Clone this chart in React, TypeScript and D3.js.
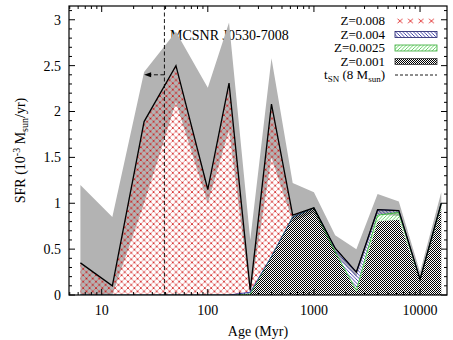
import * as d3 from "d3";

// ages of the SFH bins (Myr)
const ages = [6.3, 12.6, 25.1, 50.1, 100, 158.5, 251.2, 398.1, 631, 1000, 1585, 2512, 3981, 6310, 10000, 15849];

// SFR per metallicity (10^-3 Msun/yr), stacked bottom -> top
const z001 = [0, 0, 0, 0, 0, 0, 0.01, 0.42, 0.85, 0.95, 0.47, 0.03, 0.8, 0.82, 0.15, 0.95];
const z0025 = [0, 0, 0, 0, 0, 0, 0, 0, 0, 0, 0, 0.02, 0.07, 0.08, 0.02, 0.05];
const z004 = [0, 0, 0, 0, 0, 0, 0.02, 0, 0, 0, 0.04, 0.2, 0.06, 0.02, 0, 0];
const z008 = [0.35, 0.1, 1.89, 2.5, 1.15, 2.31, 0.02, 1.66, 0.02, 0, 0, 0, 0, 0, 0, 0];

// uncertainty band on the total
const upper = [1.2, 0.85, 2.43, 2.87, 2.26, 2.97, 0.6, 2.58, 1.22, 1.12, 0.65, 0.5, 1.1, 1.02, 0.25, 1.12];
const lower = [0, 0, 1.0, 2.1, 1.0, 1.8, 0, 1.5, 0.8, 0.9, 0.45, 0.2, 0.88, 0.86, 0.14, 0.95];

const tSN = 39; // Myr, lifetime of 8 Msun star
const arrowTo = 25.1;
const arrowY = 2.4;

const yTicks = [0, 0.5, 1, 1.5, 2, 2.5, 3];
const xTicks = [10, 100, 1000, 10000];

const W = 453, H = 340;
const margin = { left: 69, right: 6, top: 6, bottom: 45 };

const FONT = "'Liberation Serif', 'Times New Roman', serif";
const FS = 14;
const LFS = 13;

export default function App() {
  const x = d3.scaleLog().domain([4.92, 17950]).range([margin.left, W - margin.right]);
  const y = d3.scaleLinear().domain([0, 3.15]).range([H - margin.bottom, margin.top]);

  const layers = [
    { key: "z001", vals: z001, fill: "url(#checker)", edge: "#000" },
    { key: "z0025", vals: z0025, fill: "url(#greenHatch)", edge: "#22bb22" },
    { key: "z004", vals: z004, fill: "url(#blueHatch)", edge: "#1a1a99" },
    { key: "z008", vals: z008, fill: "url(#redHatch)", edge: "#cc2222" },
  ];

  // cumulative stacks
  let base = ages.map(() => 0);
  const stacks = layers.map((l) => {
    const top = base.map((b, i) => b + l.vals[i]);
    const s = { ...l, lo: base, hi: top };
    base = top;
    return s;
  });
  const total = base;

  const area = (lo: number[], hi: number[]) =>
    d3.area<number>()
      .x((_, i) => x(ages[i]))
      .y0((_, i) => y(lo[i]))
      .y1((_, i) => y(hi[i]))(ages.map((_, i) => i)) || "";

  const line = (v: number[]) =>
    d3.line<number>()
      .x((_, i) => x(ages[i]))
      .y((_, i) => y(v[i]))(ages.map((_, i) => i)) || "";

  const x0 = margin.left, x1 = W - margin.right;
  const y0 = H - margin.bottom, y1 = margin.top;

  // minor ticks
  const yMinor = d3.range(0, 3.15, 0.1).filter((v) => Math.abs(v * 2 - Math.round(v * 2)) > 1e-6);
  const xMinor: number[] = [];
  for (let dec = 1; dec <= 10000; dec *= 10) {
    for (let m = 2; m <= 9; m++) {
      const v = m * dec;
      if (v > 4.92 && v < 17950) xMinor.push(v);
    }
  }

  const legendRows = [
    { label: "Z=0.008", fill: "url(#redLegend)", stroke: "none" },
    { label: "Z=0.004", fill: "url(#blueHatch)", stroke: "#1a1a66" },
    { label: "Z=0.0025", fill: "url(#greenHatch)", stroke: "#33aa33" },
    { label: "Z=0.001", fill: "url(#checker)", stroke: "#333" },
  ];
  const legX = 385, legSw0 = 395, legSw1 = 437, legY0 = 21, legDy = 13.5;

  return (
    <svg width={W} height={H} style={{ position: "absolute", left: 0, top: 0 }} fontFamily={FONT}>
      <defs>
        <pattern id="redHatch" patternUnits="userSpaceOnUse" width={6.4} height={6.4}>
          <path d="M0,0L6.4,6.4M6.4,0L0,6.4" stroke="#d43838" strokeWidth={0.5} />
          <circle cx={0} cy={0} r={0.8} fill="#c00" />
          <circle cx={6.4} cy={0} r={0.8} fill="#c00" />
          <circle cx={0} cy={6.4} r={0.8} fill="#c00" />
          <circle cx={6.4} cy={6.4} r={0.8} fill="#c00" />
          <circle cx={3.2} cy={3.2} r={0.8} fill="#c00" />
        </pattern>
        <pattern id="redLegend" patternUnits="userSpaceOnUse" width={10.5} height={7} x={legSw0} y={legY0 - 3}>
          <path d="M2.5,0.8L7.5,5.2M7.5,0.8L2.5,5.2" stroke="#e03030" strokeWidth={0.9} />
        </pattern>
        <pattern id="blueHatch" patternUnits="userSpaceOnUse" width={3.5} height={3.5}>
          <path d="M0,0L3.5,3.5M-1,2.5L1,4.5M2.5,-1L4.5,1" stroke="#1a1a99" strokeWidth={0.8} />
        </pattern>
        <pattern id="greenHatch" patternUnits="userSpaceOnUse" width={3.5} height={3.5}>
          <path d="M0,3.5L3.5,0M-1,1L1,-1M2.5,4.5L4.5,2.5" stroke="#44cc44" strokeWidth={0.8} />
        </pattern>
        <pattern id="checker" patternUnits="userSpaceOnUse" width={2} height={2}>
          <path d="M0,0h1v1h-1zM1,1h1v1h-1z" fill="#000" shapeRendering="crispEdges" />
        </pattern>
        <clipPath id="plot">
          <rect x={x0} y={y1} width={x1 - x0} height={y0 - y1} />
        </clipPath>
      </defs>

      {/* annotation (behind the band) */}
      <text x={170} y={40} fontSize={FS} fill="#000">MCSNR J0530-7008</text>

      <g clipPath="url(#plot)">
        {/* uncertainty band */}
        <path d={area(lower, upper)} fill="#b3b3b3" />

        {/* stacked metallicity layers */}
        {stacks.map((s) => (
          <path key={s.key} d={area(s.lo, s.hi)} fill={s.fill} />
        ))}
        {stacks.slice(1, 3).map((s) => (
          <path key={s.key + "e"} d={line(s.hi)} fill="none" stroke={s.edge} strokeWidth={0.8} />
        ))}

        {/* total */}
        <path d={line(total)} fill="none" stroke="#000" strokeWidth={1.3} />

        {/* t_SN */}
        <line x1={x(tSN)} x2={x(tSN)} y1={y1} y2={y0} stroke="#000" strokeWidth={0.9} strokeDasharray="4,2.5" />
        <line x1={x(tSN)} x2={x(arrowTo) + 6} y1={y(arrowY)} y2={y(arrowY)} stroke="#000" strokeWidth={0.9} strokeDasharray="4,2.5" />
        <path
          d={`M${x(arrowTo)},${y(arrowY)}L${x(arrowTo) + 7},${y(arrowY) - 2.5}L${x(arrowTo) + 7},${y(arrowY) + 2.5}Z`}
          fill="#000"
        />
      </g>

      {/* frame */}
      <rect x={x0} y={y1} width={x1 - x0} height={y0 - y1} fill="none" stroke="#000" strokeWidth={1.2} />

      {/* y ticks */}
      {yTicks.map((t) => (
        <g key={"y" + t}>
          <line x1={x0} x2={x0 + 6} y1={y(t)} y2={y(t)} stroke="#000" strokeWidth={1} />
          <line x1={x1} x2={x1 - 6} y1={y(t)} y2={y(t)} stroke="#000" strokeWidth={1} />
          <text x={x0 - 8} y={y(t)} dy="0.35em" textAnchor="end" fontSize={FS}>{t}</text>
        </g>
      ))}
      {yMinor.map((t) => (
        <g key={"ym" + t}>
          <line x1={x0} x2={x0 + 3} y1={y(t)} y2={y(t)} stroke="#000" strokeWidth={1} />
          <line x1={x1} x2={x1 - 3} y1={y(t)} y2={y(t)} stroke="#000" strokeWidth={1} />
        </g>
      ))}

      {/* x ticks */}
      {xTicks.map((t) => (
        <g key={"x" + t}>
          <line x1={x(t)} x2={x(t)} y1={y0} y2={y0 - 6} stroke="#000" strokeWidth={1} />
          <line x1={x(t)} x2={x(t)} y1={y1} y2={y1 + 6} stroke="#000" strokeWidth={1} />
          <text x={x(t)} y={y0 + 20} textAnchor="middle" fontSize={FS}>{t}</text>
        </g>
      ))}
      {xMinor.map((t) => (
        <g key={"xm" + t}>
          <line x1={x(t)} x2={x(t)} y1={y0} y2={y0 - 3} stroke="#000" strokeWidth={1} />
          <line x1={x(t)} x2={x(t)} y1={y1} y2={y1 + 3} stroke="#000" strokeWidth={1} />
        </g>
      ))}

      {/* axis titles */}
      <text x={(x0 + x1) / 2} y={336} textAnchor="middle" fontSize={FS}>Age (Myr)</text>
      <text transform={`translate(25,${(y0 + y1) / 2}) rotate(-90)`} textAnchor="middle" fontSize={FS}>
        SFR (10<tspan dy={-5} fontSize={10}>-3</tspan>
        <tspan dy={5}> M</tspan>
        <tspan dy={3} fontSize={10}>sun</tspan>
        <tspan dy={-3}>/yr)</tspan>
      </text>

      {/* legend */}
      {legendRows.map((r, i) => {
        const cy = legY0 + i * legDy;
        return (
          <g key={r.label}>
            <text x={legX} y={cy} dy="0.33em" textAnchor="end" fontSize={LFS}>{r.label}</text>
            <rect x={legSw0} y={cy - 3} width={legSw1 - legSw0} height={6} fill={r.fill} stroke={r.stroke} strokeWidth={0.8} />
          </g>
        );
      })}
      <g>
        <text x={legX} y={legY0 + 4 * legDy} dy="0.33em" textAnchor="end" fontSize={LFS}>
          t<tspan dy={3} fontSize={9}>SN</tspan>
          <tspan dy={-3}> (8 M</tspan>
          <tspan dy={3} fontSize={9}>sun</tspan>
          <tspan dy={-3}>)</tspan>
        </text>
        <line x1={legSw0} x2={legSw1} y1={legY0 + 4 * legDy} y2={legY0 + 4 * legDy} stroke="#000" strokeWidth={0.9} strokeDasharray="3,2" />
      </g>
    </svg>
  );
}
